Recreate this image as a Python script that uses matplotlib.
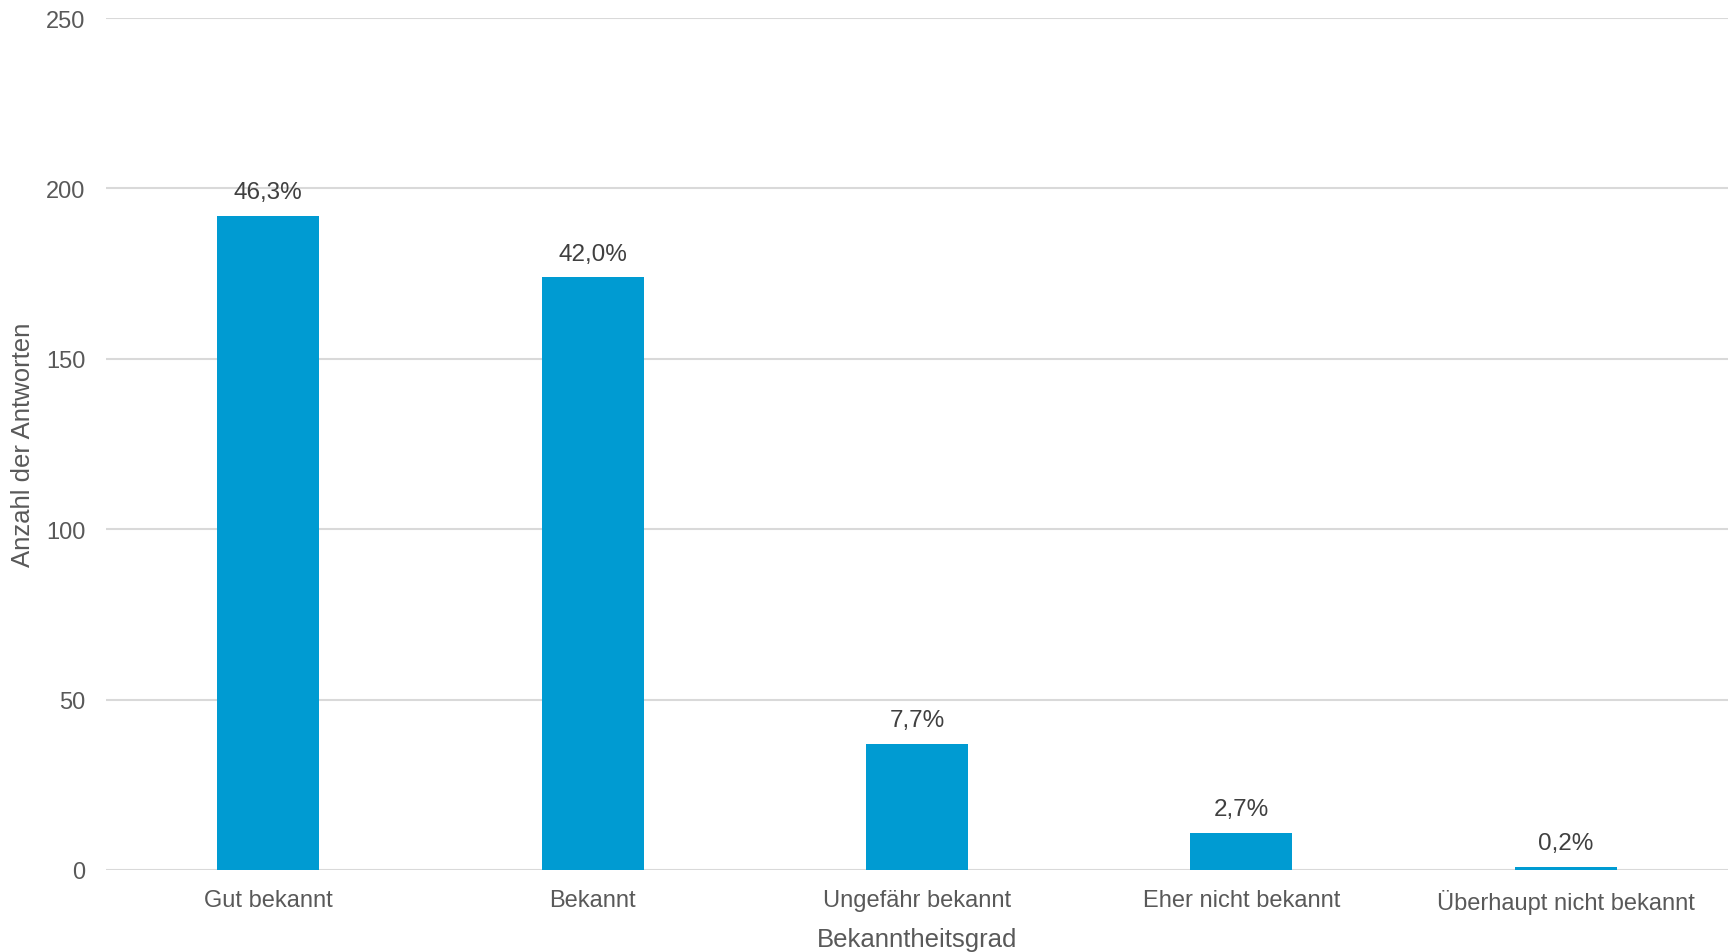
import matplotlib.pyplot as plt

plt.rcParams['font.family'] = ['Liberation Sans', 'DejaVu Sans']

# Daten
kategorien = ['Gut bekannt', 'Bekannt', 'Ungefähr bekannt', 'Eher nicht bekannt', 'Überhaupt nicht bekannt']
anzahl = [192, 174, 37, 11, 1]
prozent = ['46,3%', '42,0%', '7,7%', '2,7%', '0,2%']

farbe = '#009BD2'
textfarbe = '#595959'

fig = plt.figure(figsize=(17.33, 9.53), dpi=100)
ax = fig.add_axes([106 / 1733, 1 - 871 / 953, (1728 - 106) / 1733, (871 - 19) / 953])

x = range(len(kategorien))
bars = ax.bar(x, anzahl, width=0.315, color=farbe, zorder=3)

# Beschriftungen über den Balken
ax.bar_label(bars, labels=prozent, padding=9, fontsize=17.5, color='#404040')

ax.set_xlim(-0.5, len(kategorien) - 0.5)
ax.set_ylim(0, 250)
ax.set_yticks([0, 50, 100, 150, 200, 250])
ax.set_xticks(list(x))
ax.set_xticklabels(kategorien)

ax.grid(axis='y', color='#D9D9D9', linewidth=1.5, zorder=0)
for s in ax.spines.values():
    s.set_visible(False)

ax.tick_params(axis='both', length=0, labelsize=17, labelcolor=textfarbe)
ax.tick_params(axis='y', pad=15)
ax.tick_params(axis='x', pad=14)

ax.set_xlabel('Bekanntheitsgrad', fontsize=18.5, color=textfarbe, labelpad=9)
ax.set_ylabel('Anzahl der Antworten', fontsize=18.5, color=textfarbe, labelpad=8)

plt.savefig('out.png', dpi=100)
